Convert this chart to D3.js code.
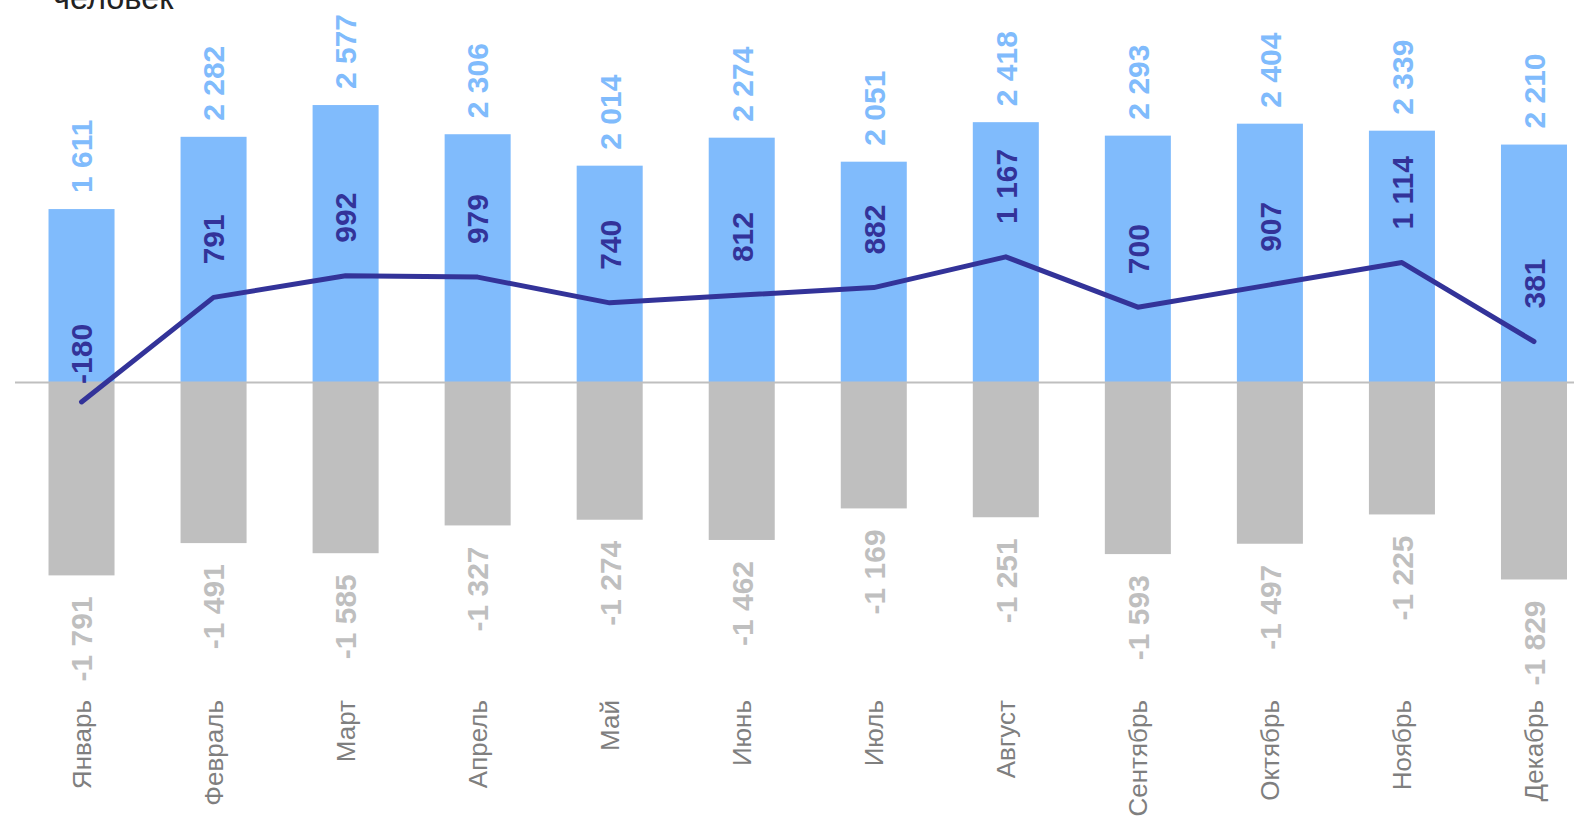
<!DOCTYPE html>
<html><head><meta charset="utf-8">
<script src="https://cdn.jsdelivr.net/npm/d3@7"></script>
<style>html,body{margin:0;padding:0;background:#fff;overflow:hidden}</style>
</head><body>
<svg id="chart" width="1574" height="817"></svg>
<script>
const months = ["Январь","Февраль","Март","Апрель","Май","Июнь","Июль","Август","Сентябрь","Октябрь","Ноябрь","Декабрь"];
const arrivals = [1611,2282,2577,2306,2014,2274,2051,2418,2293,2404,2339,2210];
const departures = [-1791,-1491,-1585,-1327,-1274,-1462,-1169,-1251,-1593,-1497,-1225,-1829];
const netGrowth = [-180,791,992,979,740,812,882,1167,700,907,1114,381];
const unitLabel = "человек";

const W = 1574, H = 817;
const svg = d3.select("#chart");
const font = "'Liberation Sans', Arial, sans-serif";
const fmt = v => { const s = Math.abs(v).toString().replace(/\B(?=(\d{3})+(?!\d))/g, " "); return (v < 0 ? "-" : "") + s; };

const x = d3.scaleBand().domain(months).range([15.5, 1600]).paddingInner(0.5).paddingOuter(0.25);
const y = d3.scaleLinear().domain([-2000, 3000]).range([597.9, 59.5]);
const cx = m => x(m) + x.bandwidth() / 2;

// bars
svg.append("g").selectAll("rect").data(months).join("rect")
  .attr("x", d => x(d)).attr("width", x.bandwidth())
  .attr("y", (d,i) => y(arrivals[i])).attr("height", (d,i) => y(0) - y(arrivals[i]))
  .attr("fill", "#80BBFC");
svg.append("g").selectAll("rect").data(months).join("rect")
  .attr("x", d => x(d)).attr("width", x.bandwidth())
  .attr("y", y(0)).attr("height", (d,i) => y(departures[i]) - y(0))
  .attr("fill", "#BFBFBF");

// zero line
svg.append("line").attr("x1", 15).attr("x2", W).attr("y1", y(0)).attr("y2", y(0))
  .attr("stroke", "#BFBFBF").attr("stroke-width", 2);

// net line
const line = d3.line().x((d,i) => cx(months[i])).y(d => y(d));
svg.append("path").datum(netGrowth).attr("d", line)
  .attr("fill", "none").attr("stroke", "#333399").attr("stroke-width", 5)
  .attr("stroke-linecap", "round").attr("stroke-linejoin", "round");

function rotLabel(g, xx, yy, text, anchor, size, weight, color) {
  g.append("text").attr("transform", `translate(${xx},${yy}) rotate(-90)`)
    .attr("text-anchor", anchor).attr("dy", "0.36em")
    .attr("font-family", font).attr("font-size", size).attr("font-weight", weight)
    .attr("fill", color).text(text);
}
const lg = svg.append("g");
months.forEach((m, i) => {
  rotLabel(lg, cx(m), y(arrivals[i]) - 16, fmt(arrivals[i]), "start", 30, "bold", "#80BBFC");
  rotLabel(lg, cx(m), y(departures[i]) + 21, fmt(departures[i]), "end", 30, "bold", "#BFBFBF");
  const off = netGrowth[i] < 0 ? 18 : 33;
  rotLabel(lg, cx(m), y(netGrowth[i]) - off, fmt(netGrowth[i]), "start", 30, "bold", "#333399");
  rotLabel(lg, cx(m), 700, m, "end", 26, "normal", "#7F7F7F");
});

svg.append("text").attr("x", 53).attr("y", 9).attr("font-family", font)
  .attr("font-size", 32.5).attr("fill", "#222").text(unitLabel);
</script>
</body></html>
